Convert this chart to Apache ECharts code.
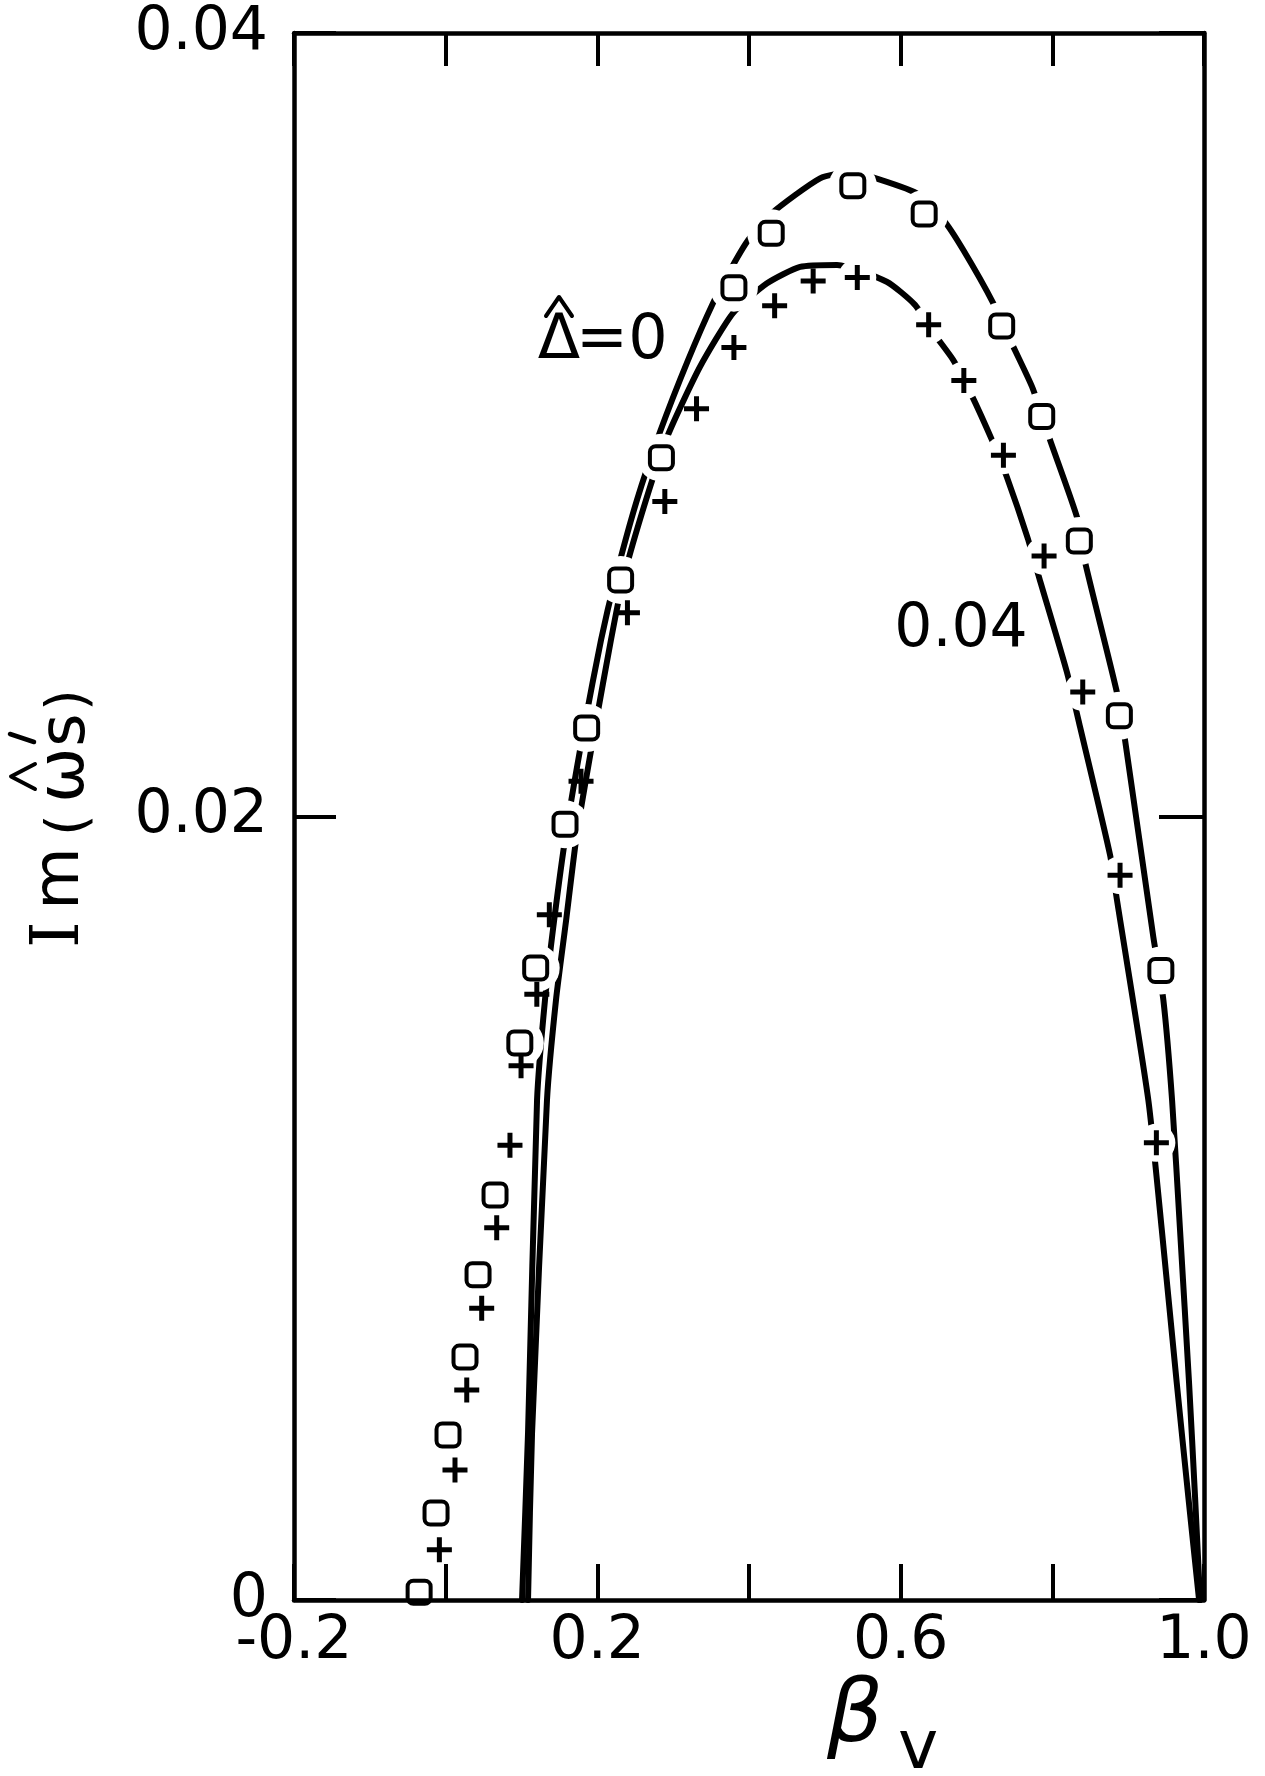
<!DOCTYPE html>
<html>
<head>
<meta charset="utf-8">
<script src="https://cdn.jsdelivr.net/npm/echarts@6/dist/echarts.min.js"></script>
<style>
html,body{margin:0;padding:0;background:#fff;}
#chart{width:1265px;height:1776px;}
</style>
</head>
<body>
<div id="chart"></div>
<script>
// ---------------- data ----------------
// square markers (upper curve)
const squareX = [-0.035, -0.0127, 0.0031, 0.0255, 0.0427, 0.0651, 0.0978, 0.1187, 0.1574, 0.1859, 0.2307, 0.2845, 0.3801, 0.4293, 0.5369, 0.6310, 0.7332, 0.7860, 0.8356, 0.8884, 0.9431];
const squareY = [0.0002, 0.00222, 0.00421, 0.00620, 0.00830, 0.01034, 0.01422, 0.01613, 0.01980, 0.02226, 0.02604, 0.02916, 0.03350, 0.03489, 0.03610, 0.03538, 0.03252, 0.03021, 0.02703, 0.02257, 0.01607];
// plus markers (lower curve)
const plusX = [-0.0083, 0.0123, 0.0278, 0.0475, 0.0673, 0.0848, 0.0994, 0.1202, 0.1367, 0.1785, 0.2397, 0.2890, 0.3308, 0.3801, 0.4338, 0.4846, 0.5428, 0.6369, 0.6833, 0.7355, 0.7891, 0.8401, 0.8893, 0.9372];
const plusY = [0.00128, 0.00332, 0.00536, 0.00745, 0.00950, 0.01161, 0.01364, 0.01546, 0.01749, 0.02090, 0.02520, 0.02804, 0.03041, 0.03197, 0.03304, 0.03367, 0.03376, 0.03255, 0.03113, 0.02922, 0.02665, 0.02318, 0.01850, 0.01167];
// outer curve
const curveAX = [0.1007, 0.1086, 0.1205, 0.1310, 0.1429, 0.1587, 0.1824, 0.2049, 0.2233, 0.2523, 0.2827, 0.3196, 0.3526, 0.3776, 0.3991, 0.4300, 0.4937, 0.5332, 0.5530, 0.6212, 0.6563, 0.6826, 0.7222, 0.7486, 0.7741, 0.7970, 0.8330, 0.8431, 0.8849, 0.8959, 0.9332, 0.9464, 0.9579, 0.9684, 0.9803, 0.9882, 0.9948];
const curveAY = [0, 0.00426, 0.01276, 0.01532, 0.01733, 0.01958, 0.02226, 0.02451, 0.02604, 0.02808, 0.02982, 0.03165, 0.03311, 0.03403, 0.03472, 0.03540, 0.03629, 0.03645, 0.03638, 0.03591, 0.03523, 0.03446, 0.03310, 0.03199, 0.03093, 0.02961, 0.02761, 0.02650, 0.02319, 0.02195, 0.01692, 0.01532, 0.01276, 0.00944, 0.00554, 0.00263, 0];
// inner curve
const curveBX = [0.1086, 0.1139, 0.1336, 0.1455, 0.1587, 0.1732, 0.1969, 0.2180, 0.2339, 0.2642, 0.2932, 0.3354, 0.3789, 0.4238, 0.4673, 0.5161, 0.5816, 0.6189, 0.6453, 0.6694, 0.6915, 0.7222, 0.7399, 0.7676, 0.7829, 0.8190, 0.8365, 0.8761, 0.8849, 0.9266, 0.9443, 0.9640, 0.9794, 0.9935];
const curveBY = [0, 0.00426, 0.01276, 0.01532, 0.01733, 0.01958, 0.02226, 0.02451, 0.02604, 0.02808, 0.02974, 0.03148, 0.03285, 0.03361, 0.03403, 0.03408, 0.03365, 0.03306, 0.03229, 0.03165, 0.03084, 0.02953, 0.02867, 0.02710, 0.02608, 0.02370, 0.02229, 0.01902, 0.01791, 0.01276, 0.00946, 0.00555, 0.00262, 0];
// tick labels
const xLabelValues = [-0.2, 0.2, 0.6, 1.0];
const xLabelTexts = ['-0.2', '0.2', '0.6', '1.0'];
const yLabelValues = [0, 0.02, 0.04];
const yLabelTexts = ['0', '0.02', '0.04'];
const curveLabels = ['\u0394', '=', '0', '0.04'];
// -----------------------------------------------------------

const zip = (xs, ys) => xs.map((x, i) => [x, ys[i]]);
const squares = zip(squareX, squareY);
const pluses = zip(plusX, plusY);

function pick(vals, texts) {
  return function (v) {
    for (let i = 0; i < vals.length; i++) if (Math.abs(vals[i] - v) < 1e-6) return texts[i];
    return '';
  };
}

const FONT = 'DejaVu Sans';
const PLUS = 'path://M4,0H6V4H10V6H6V10H4V6H0V4H4Z';
const axisLineStyle = { color: '#000', width: 4.5 };
const tickStyle = { color: '#000', width: 4 };

const chart = echarts.init(document.getElementById('chart'), null, { renderer: 'canvas' });

const lineSeries = (name, xs, ys) => ({
  name, type: 'line', data: zip(xs, ys), showSymbol: false, smooth: 0.2, zlevel: 0, z: 2,
  lineStyle: { color: '#000', width: 6, cap: 'round', join: 'round', opacity: 1 }, silent: true, clip: true
});

const option = {
  backgroundColor: '#fff',
  animation: false,
  grid: { left: 294, right: 61, top: 33, bottom: 176, containLabel: false },
  xAxis: [{
    type: 'value', position: 'bottom', min: -0.2, max: 1.0, interval: 0.2, zlevel: 3,
    axisLine: { show: true, onZero: false, lineStyle: axisLineStyle },
    axisTick: { show: true, inside: true, length: 36, lineStyle: tickStyle },
    axisLabel: { formatter: pick(xLabelValues, xLabelTexts), fontFamily: FONT, fontSize: 60, color: '#000', margin: 12 },
    splitLine: { show: false }
  }, {
    type: 'value', position: 'top', min: -0.2, max: 1.0, interval: 0.2, zlevel: 3,
    axisLine: { show: true, onZero: false, lineStyle: axisLineStyle },
    axisTick: { show: true, inside: true, length: 33, lineStyle: tickStyle },
    axisLabel: { show: false }, splitLine: { show: false }
  }],
  yAxis: [{
    type: 'value', position: 'left', min: 0, max: 0.04, interval: 0.02, zlevel: 3,
    axisLine: { show: true, onZero: false, lineStyle: axisLineStyle },
    axisTick: { show: true, inside: true, length: 42, lineStyle: tickStyle },
    axisLabel: { formatter: pick(yLabelValues, yLabelTexts), fontFamily: FONT, fontSize: 60, color: '#000', margin: 26 },
    splitLine: { show: false }
  }, {
    type: 'value', position: 'right', min: 0, max: 0.04, interval: 0.02, zlevel: 3,
    axisLine: { show: true, onZero: false, lineStyle: axisLineStyle },
    axisTick: { show: true, inside: true, length: 45, lineStyle: tickStyle },
    axisLabel: { show: false }, splitLine: { show: false }
  }],
  series: [
    lineSeries('outer', curveAX, curveAY),
    lineSeries('inner', curveBX, curveBY),
    { type: 'scatter', data: squares, symbol: 'roundRect', symbolSize: 23, zlevel: 2, z: 4, silent: true, clip: false,
      itemStyle: { color: '#fff', borderColor: '#000', borderWidth: 4, opacity: 1 } },
    { type: 'scatter', data: pluses, symbol: PLUS, symbolSize: 25, zlevel: 2, z: 4, silent: true, clip: false,
      itemStyle: { color: '#000', opacity: 1 } }
  ]
};
chart.setOption(option);

// white gaps in the curves around the markers (placed through the chart's own scales)
const halos = [];
squares.forEach(p => {
  const c = chart.convertToPixel({ gridIndex: 0 }, p);
  halos.push({ type: 'circle', zlevel: 1, z: 1, silent: true, shape: { cx: c[0], cy: c[1], r: 24 }, style: { fill: '#fff' } });
});
pluses.filter(p => p[0] > 0.54).forEach(p => {
  const c = chart.convertToPixel({ gridIndex: 0 }, p);
  halos.push({ type: 'circle', zlevel: 1, z: 1, silent: true, shape: { cx: c[0], cy: c[1], r: 19 }, style: { fill: '#fff' } });
});

const texts = [
  // "Δ̂ = 0"
  { type: 'text', x: 559, y: 342, zlevel: 3, style: { text: curveLabels[0], font: '62px "DejaVu Sans"', fill: '#000', align: 'center', verticalAlign: 'middle' } },
  { type: 'polyline', zlevel: 3, shape: { points: [[546, 316], [559, 297], [572, 316]] }, style: { stroke: '#000', lineWidth: 4, fill: null, lineCap: 'round', lineJoin: 'round' } },
  { type: 'text', x: 602, y: 342, zlevel: 3, style: { text: curveLabels[1], font: '62px "DejaVu Sans"', fill: '#000', align: 'center', verticalAlign: 'middle' } },
  { type: 'text', x: 648, y: 342, zlevel: 3, style: { text: curveLabels[2], font: '62px "DejaVu Sans"', fill: '#000', align: 'center', verticalAlign: 'middle' } },
  // "0.04"
  { type: 'text', x: 961, y: 630, zlevel: 3, style: { text: curveLabels[3], font: '60px "DejaVu Sans"', fill: '#000', align: 'center', verticalAlign: 'middle' } },
  // x axis title  β_v
  { type: 'text', x: 855, y: 1718, zlevel: 3, style: { text: '\u03B2', font: 'italic 88px "DejaVu Sans"', fill: '#000', align: 'center', verticalAlign: 'middle' } },
  { type: 'text', x: 918, y: 1750, zlevel: 3, style: { text: 'v', font: '68px "DejaVu Sans"', fill: '#000', align: 'center', verticalAlign: 'middle' } },
  // y axis title  Im(ω̂'s)  rotated
  { type: 'group', x: 82, y: 947, rotation: Math.PI / 2, zlevel: 3, children: [
    { type: 'text', x: 12.5, y: -22, style: { text: 'I', font: '68px "DejaVu Serif"', fill: '#000', align: 'center', verticalAlign: 'middle' } },
    { type: 'text', x: 68.5, y: -21, style: { text: 'm', font: '64px "DejaVu Sans"', fill: '#000', align: 'center', verticalAlign: 'middle' } },
    { type: 'text', x: 122, y: -12, style: { text: '(', font: '56px "DejaVu Sans"', fill: '#000', align: 'center', verticalAlign: 'middle' } },
    { type: 'text', x: 172, y: -16, style: { text: '\u03C9', font: '66px "DejaVu Sans"', fill: '#000', align: 'center', verticalAlign: 'middle' } },
    { type: 'polyline', shape: { points: [[158, -47], [170.5, -71], [183, -47]] }, style: { stroke: '#000', lineWidth: 4, fill: null, lineCap: 'round', lineJoin: 'round' } },
    { type: 'line', shape: { x1: 205, y1: -48, x2: 213, y2: -72 }, style: { stroke: '#000', lineWidth: 4.5, lineCap: 'round' } },
    { type: 'text', x: 217, y: -15, style: { text: 's', font: '64px "DejaVu Sans"', fill: '#000', align: 'center', verticalAlign: 'middle' } },
    { type: 'text', x: 247, y: -12, style: { text: ')', font: '56px "DejaVu Sans"', fill: '#000', align: 'center', verticalAlign: 'middle' } }
  ]}
];

chart.setOption({ graphic: halos.concat(texts) });
</script>
</body>
</html>
